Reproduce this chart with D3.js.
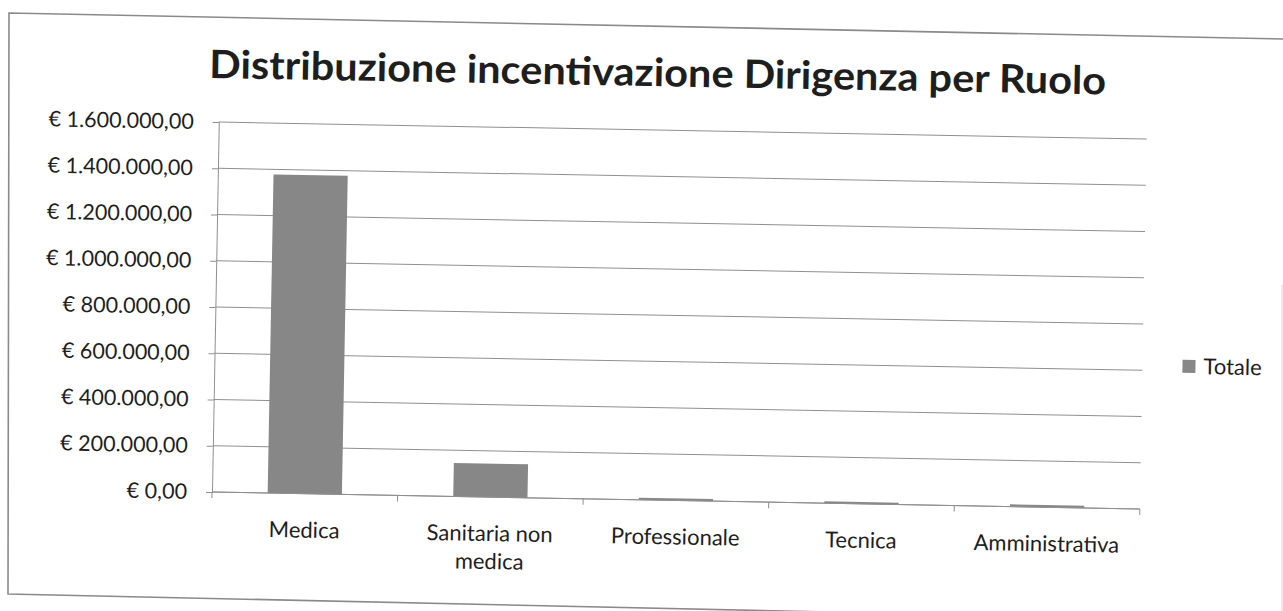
<!DOCTYPE html>
<html>
<head>
<meta charset="utf-8">
<script src="https://cdn.jsdelivr.net/npm/d3@7"></script>
<style>
  body { margin: 0; background: #fff; }
  text { font-family: Lato, "Open Sans", sans-serif; fill: #1e1e1e; }
</style>
</head>
<body>
<div id="chart-area"></div>
<script>
const categories = ['Medica', 'Sanitaria non medica', 'Professionale', 'Tecnica', 'Amministrativa'];
const totale = [1378000, 145000, 9000, 8000, 10000];
const yTicks = [0, 200000, 400000, 600000, 800000, 1000000, 1200000, 1400000, 1600000];
const seriesName = 'Totale';
const title = 'Distribuzione incentivazione Dirigenza per Ruolo';

const width = 1283;
const height = 611;
// plot area before the scan tilt is applied
const plotLeft = 212, plotRight = 1140, plotTop = 122, plotBottom = 492;
const tilt = 1.05; // the scanned page is slightly rotated

const itLocale = d3.formatLocale({
  decimal: ',',
  thousands: '.',
  grouping: [3],
  currency: ['€ ', '']
});
const fmt = itLocale.format('$,.2f');

const svg = d3.select('#chart-area')
  .append('svg')
  .attr('width', width)
  .attr('height', height);

svg.append('rect').attr('width', width).attr('height', height).attr('fill', '#fff');

// chart border of the scanned sheet
svg.append('path')
  .attr('d', 'M1283,39 L9,13 L8,594 L1283,622')
  .attr('fill', 'none')
  .attr('stroke', '#8a8a8a')
  .attr('stroke-width', 1.6);
svg.append('line')
  .attr('x1', 1282).attr('x2', 1282).attr('y1', 285).attr('y2', 611)
  .attr('stroke', '#d4d4d4');

const g = svg.append('g').attr('transform', `rotate(${tilt},${plotLeft},${plotBottom})`);

const x = d3.scaleBand()
  .domain(categories)
  .range([plotLeft, plotRight])
  .paddingInner(0.6)
  .paddingOuter(0.3);

const y = d3.scaleLinear()
  .domain([0, 1600000])
  .range([plotBottom, plotTop]);

// gridlines
g.append('g')
  .selectAll('line')
  .data(yTicks)
  .join('line')
  .attr('x1', plotLeft)
  .attr('x2', plotRight)
  .attr('y1', (d) => y(d))
  .attr('y2', (d) => y(d))
  .attr('stroke', '#8f8f8f')
  .attr('stroke-width', 1);

// y axis
const yAxis = g.append('g')
  .attr('transform', `translate(${plotLeft},0)`)
  .call(d3.axisLeft(y).tickValues(yTicks).tickSize(6).tickPadding(19).tickFormat(fmt));
yAxis.select('.domain').attr('stroke', '#8f8f8f');
yAxis.selectAll('.tick line').attr('stroke', '#8f8f8f');
yAxis.selectAll('.tick text')
  .style('font-size', '21.5px')
  .style('font-family', 'Lato, "Open Sans", sans-serif')
  .attr('fill', '#1e1e1e');

// bars
g.append('g')
  .selectAll('rect')
  .data(categories)
  .join('rect')
  .attr('x', (d) => x(d))
  .attr('width', x.bandwidth())
  .attr('y', (d, i) => y(totale[i]))
  .attr('height', (d, i) => y(0) - y(totale[i]))
  .attr('fill', '#878787');

// category axis: baseline and tick marks between categories
const gap = x.step() - x.bandwidth();
const bounds = categories.map((c) => x(c) - gap / 2).concat([x(categories[categories.length - 1]) + x.bandwidth() + gap / 2]);
g.append('line')
  .attr('x1', plotLeft).attr('x2', plotRight)
  .attr('y1', y(0)).attr('y2', y(0))
  .attr('stroke', '#8f8f8f');
g.append('g')
  .selectAll('line')
  .data(bounds)
  .join('line')
  .attr('x1', (d) => d).attr('x2', (d) => d)
  .attr('y1', y(0)).attr('y2', y(0) + 6)
  .attr('stroke', '#8f8f8f');

// category labels, wrapped like the spreadsheet does
const labels = g.append('g')
  .selectAll('text')
  .data(categories)
  .join('text')
  .attr('x', (d) => x(d) + x.bandwidth() / 2)
  .attr('y', y(0) + 44)
  .attr('text-anchor', 'middle')
  .style('font-size', '22px');

labels.each(function (d) {
  const t = d3.select(this);
  const words = d.split(' ');
  let line = [];
  let lines = [];
  const probe = t.append('tspan');
  words.forEach((w) => {
    const test = line.concat([w]).join(' ');
    probe.text(test);
    if (probe.node().getComputedTextLength() > 170 && line.length) {
      lines.push(line.join(' '));
      line = [w];
    } else {
      line.push(w);
    }
  });
  lines.push(line.join(' '));
  probe.remove();
  lines.forEach((l, i) => {
    t.append('tspan')
      .attr('x', x(d) + x.bandwidth() / 2)
      .attr('dy', i === 0 ? 0 : 28)
      .text(l);
  });
});

// legend
const legend = g.append('g').attr('transform', 'translate(1180,342)');
legend.append('rect').attr('width', 13).attr('height', 13).attr('fill', '#878787');
legend.append('text')
  .attr('x', 21)
  .attr('y', 14)
  .style('font-size', '22px')
  .text(seriesName);

// title
g.append('text')
  .attr('x', 650)
  .attr('y', 78)
  .attr('text-anchor', 'middle')
  .attr('textLength', 897)
  .attr('lengthAdjust', 'spacingAndGlyphs')
  .style('font-size', '39px')
  .style('font-weight', 'bold')
  .attr('fill', '#0a0a0a')
  .text(title);
</script>
</body>
</html>
